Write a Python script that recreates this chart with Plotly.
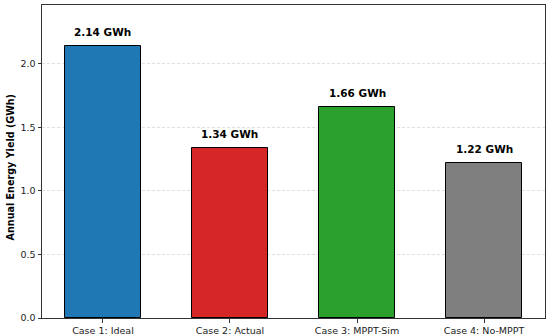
import plotly.graph_objects as go

categories = ["Case 1: Ideal", "Case 2: Actual", "Case 3: MPPT-Sim", "Case 4: No-MPPT"]
values = [2.14, 1.34, 1.66, 1.22]
colors = ["#1f77b4", "#d62728", "#2ca02c", "#7f7f7f"]
labels = [f"{v:.2f} GWh" for v in values]
xpos = list(range(len(categories)))

fig = go.Figure()
fig.add_trace(go.Bar(
    x=xpos, y=values, width=0.6,
    marker=dict(color=colors, line=dict(color="black", width=1)),
    hoverinfo="skip",
))
for x, v, t in zip(xpos, values, labels):
    fig.add_annotation(x=x, y=v, text=f"<b>{t}</b>", showarrow=False,
                       yanchor="bottom", yshift=6,
                       font=dict(size=10.5, color="black", family="DejaVu Sans"))

fig.add_annotation(xref="paper", yref="paper", x=-0.0636, y=0.481,
                   text="<b>Annual Energy Yield (GWh)</b>", textangle=-90,
                   showarrow=False, xanchor="center", yanchor="middle",
                   font=dict(size=9.6, color="black", family="DejaVu Sans"))

fig.update_layout(
    width=550, height=336,
    margin=dict(l=42, r=5, t=5, b=18),
    paper_bgcolor="white", plot_bgcolor="white",
    showlegend=False,
    font=dict(family="DejaVu Sans", size=9.5, color="#222"),
    bargap=0,
)
fig.update_xaxes(
    range=[-0.48, 3.48], tickmode="array", tickvals=xpos, ticktext=categories,
    showgrid=False, showline=True, linecolor="#333", linewidth=1, mirror=True,
    ticks="outside", ticklen=3.5, tickcolor="#333", zeroline=False,
    tickfont=dict(size=9.5), automargin=False,
)
fig.update_yaxes(
    range=[0, 2.461], tickmode="array", tickvals=[0, 0.5, 1.0, 1.5, 2.0],
    ticktext=["0.0", "0.5", "1.0", "1.5", "2.0"],
    showgrid=True, gridcolor="#e0e0e0", griddash="3px,2px", gridwidth=0.8,
    showline=True, linecolor="#333", linewidth=1, mirror=True,
    ticks="outside", ticklen=3.5, tickcolor="#333", zeroline=False,
    tickfont=dict(size=9.5), automargin=False,
)
fig.write_html("out.html", config={"displayModeBar": False},
               post_script="document.body.style.margin='0';document.body.style.overflow='hidden';")
